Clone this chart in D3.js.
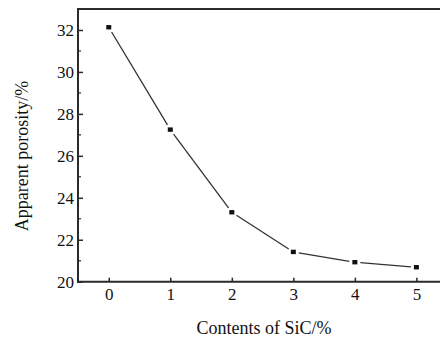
<!DOCTYPE html>
<html>
<head>
<meta charset="utf-8">
<script src="https://cdn.jsdelivr.net/npm/d3@7"></script>
<style>
  body { margin: 0; background: #fff; }
  svg { display: block; }
  svg text { font-family: "Liberation Serif", "Times New Roman", serif; fill: #111; }
</style>
</head>
<body>
<svg id="chart" width="440" height="338"></svg>
<script>
const sicContent = [0, 1, 2, 3, 4, 5];
const porosity = [32.13, 27.25, 23.31, 21.42, 20.93, 20.69];
const xTicks = [0, 1, 2, 3, 4, 5];
const yTicks = [20, 22, 24, 26, 28, 30, 32];
const yMinorTicks = [21, 23, 25, 27, 29, 31];
const xLabel = "Contents of SiC/%";
const yLabel = "Apparent porosity/%";

(function () {
const svg = d3.select("#chart");
const pLeft = 78, pRight = 441, pTop = 9, pBottom = 281.7;
const serif = "Liberation Serif, Times New Roman, serif";

const x = d3.scaleLinear().domain([-0.5, 5.4]).range([pLeft, pRight]);
const y = d3.scaleLinear().domain([20, 33]).range([pBottom, pTop]);

const axisColor = "#2a2a2a";

// x ticks (inward)
const xAxis = d3.axisBottom(x).tickValues(xTicks).tickSizeInner(-4).tickSizeOuter(0).tickPadding(6).tickFormat(d3.format("d"));
const gx = svg.append("g").attr("transform", `translate(0,${pBottom})`).call(xAxis)
  .attr("font-family", serif).attr("font-size", 17);
gx.select(".domain").remove();
gx.selectAll(".tick line").attr("stroke", axisColor).attr("stroke-width", 1.5);
gx.selectAll(".tick text").attr("fill", "#111");

// y ticks (inward)
const yAxis = d3.axisLeft(y).tickValues(yTicks).tickSizeInner(-5).tickSizeOuter(0).tickPadding(4).tickFormat(d3.format("d"));
const gy = svg.append("g").attr("transform", `translate(${pLeft},0)`).call(yAxis)
  .attr("font-family", serif).attr("font-size", 17);
gy.select(".domain").remove();
gy.selectAll(".tick line").attr("stroke", axisColor).attr("stroke-width", 1.5);
gy.selectAll(".tick text").attr("fill", "#111");

// y minor ticks
svg.append("g").selectAll("line").data(yMinorTicks).join("line")
  .attr("x1", pLeft).attr("x2", pLeft + 3)
  .attr("y1", d => y(d)).attr("y2", d => y(d))
  .attr("stroke", axisColor).attr("stroke-width", 1.2);

// frame: left, bottom, top
svg.append("line").attr("x1", pLeft).attr("x2", pLeft).attr("y1", pTop).attr("y2", pBottom + 1)
  .attr("stroke", axisColor).attr("stroke-width", 2);
svg.append("line").attr("x1", pLeft - 1).attr("x2", 440).attr("y1", pBottom).attr("y2", pBottom)
  .attr("stroke", axisColor).attr("stroke-width", 2);
svg.append("line").attr("x1", pLeft - 1).attr("x2", 440).attr("y1", pTop).attr("y2", pTop)
  .attr("stroke", axisColor).attr("stroke-width", 2);

// line segments with gaps near markers
const pts = sicContent.map((d, i) => [x(d), y(porosity[i])]);
const gap = 5.5;
const segs = [];
for (let i = 0; i < pts.length - 1; i++) {
  const [x1, y1] = pts[i], [x2, y2] = pts[i + 1];
  const len = Math.hypot(x2 - x1, y2 - y1);
  const ux = (x2 - x1) / len, uy = (y2 - y1) / len;
  segs.push([x1 + ux * gap, y1 + uy * gap, x2 - ux * gap, y2 - uy * gap]);
}
svg.append("g").selectAll("line").data(segs).join("line")
  .attr("x1", d => d[0]).attr("y1", d => d[1]).attr("x2", d => d[2]).attr("y2", d => d[3])
  .attr("stroke", "#333").attr("stroke-width", 1.3);

// markers
svg.append("g").selectAll("rect").data(sicContent).join("rect")
  .attr("x", d => x(d) - 2.5)
  .attr("y", (d, i) => y(porosity[i]) - 2.2)
  .attr("width", 5).attr("height", 4.4)
  .attr("fill", "#111");

// axis labels
svg.append("text").attr("x", 264).attr("y", 334).attr("text-anchor", "middle")
  .attr("font-family", serif).attr("font-size", 18).text(xLabel);
svg.append("text").attr("transform", "translate(28,156) rotate(-90)").attr("text-anchor", "middle")
  .attr("font-family", serif).attr("font-size", 18).text(yLabel);
})();
</script>
</body>
</html>
